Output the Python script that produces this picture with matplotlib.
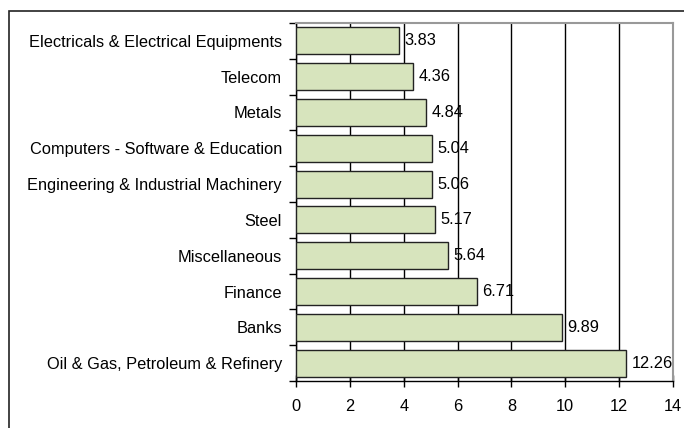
import numpy as np
import matplotlib as mpl
import matplotlib.pyplot as plt
from matplotlib.patches import Rectangle

mpl.rc('font', family='Liberation Sans')
font_size = 11.8

sectors = ['Electricals & Electrical Equipments', 'Telecom', 'Metals',
           'Computers - Software & Education',
           'Engineering & Industrial Machinery', 'Steel', 'Miscellaneous',
           'Finance', 'Banks', 'Oil & Gas, Petroleum & Refinery']
values = [3.83, 4.36, 4.84, 5.04, 5.06, 5.17, 5.64, 6.71, 9.89, 12.26]

fig = plt.figure(figsize=(6.84, 4.28), dpi=100)
# outer chart frame (cut at right and bottom like the source)
fig.patches.append(Rectangle((9 / 684, -0.05), 1.2, (428 - 11) / 428 + 0.05,
                             transform=fig.transFigure, fill=False,
                             edgecolor='#222222', linewidth=1.2))

ax = fig.add_axes([296 / 684, 1 - 381 / 428, (673 - 296) / 684, (381 - 23) / 428])

y = np.arange(len(sectors))
ax.barh(y, values, height=0.75, color='#d7e4bd', edgecolor='#222222',
        linewidth=1.0, zorder=3)
for yi, v in zip(y, values):
    ax.text(v + 0.2, yi, '%.2f' % v, va='center', ha='left',
            fontsize=font_size, zorder=4)

ax.set_ylim(len(sectors) - 0.5, -0.5)
ax.set_xlim(0, 14)
ax.set_xticks(np.arange(0, 15, 2))
ax.set_yticks(y)
ax.set_yticklabels(sectors, fontsize=font_size)
ax.set_xticklabels([str(t) for t in range(0, 15, 2)], fontsize=font_size)
ax.tick_params(axis='y', length=0, pad=10)
ax.set_yticks(np.arange(-0.5, len(sectors), 1), minor=True)
ax.tick_params(axis='y', which='minor', length=5, direction='out', width=1)
ax.tick_params(axis='x', length=8, direction='inout', width=1, pad=9)

ax.grid(axis='x', color='black', linewidth=1.0, zorder=0)
ax.set_axisbelow(True)
for side in ['top', 'right']:
    ax.spines[side].set_color('#999999')
    ax.spines[side].set_linewidth(1.5)
for side in ['left', 'bottom']:
    ax.spines[side].set_color('black')
    ax.spines[side].set_linewidth(1.0)

fig.savefig('out.png', dpi=100)
